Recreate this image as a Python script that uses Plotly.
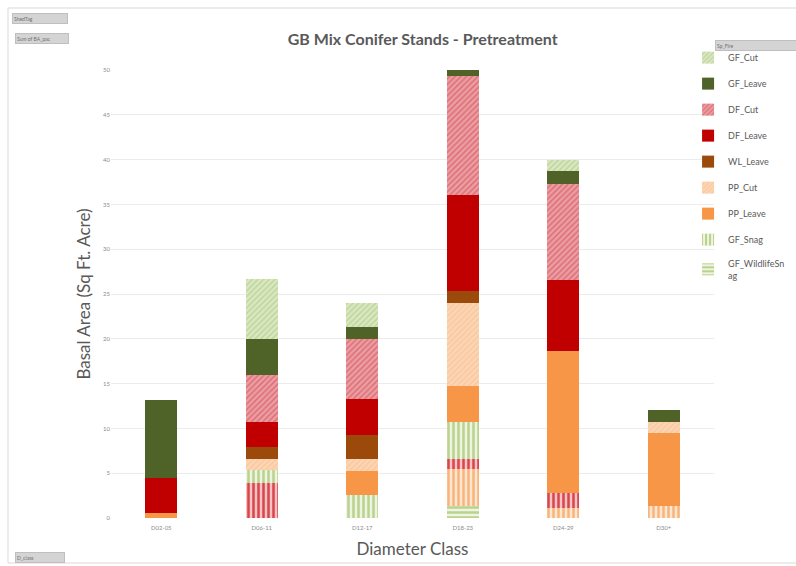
import plotly.graph_objects as go

# Diameter classes on the x axis
categories = ["D02-05", "D06-11", "D12-17", "D18-23", "D24-29", "D30+"]

# Basal area (sq ft / acre) per species & fire status, bottom of stack first
gf_wildlifesnag = [0, 0, 0, 1.3, 0, 0]
pp_snag = [0, 0, 0, 4.2, 1.1, 1.3]
df_snag = [0, 3.9, 0, 1.1, 1.7, 0]
gf_snag = [0, 1.5, 2.6, 4.1, 0, 0]
pp_leave = [0.6, 0, 2.6, 4.0, 15.8, 8.2]
pp_cut = [0, 1.2, 1.4, 9.3, 0, 1.2]
wl_leave = [0, 1.3, 2.7, 1.3, 0, 0]
df_leave = [3.9, 2.8, 4.0, 10.7, 8.0, 0]
df_cut = [0, 5.3, 6.7, 13.3, 10.7, 0]
gf_leave = [8.7, 4.0, 1.3, 0.7, 1.4, 1.3]
gf_cut = [0, 6.7, 2.7, 0, 1.3, 0]

y_ticks = [0, 5, 10, 15, 20, 25, 30, 35, 40, 45, 50]

# (name, values, legend rank, shown in legend, pattern shape, background, foreground)
series = [
    ("GF_WildlifeSn<br>ag", gf_wildlifesnag, 9, True, "-", "#eef4e2", "#b9d28c"),
    ("PP_Snag", pp_snag, 11, False, "|", "#fde6d2", "#f8b47a"),
    ("DF_Snag", df_snag, 10, False, "|", "#f6c4c4", "#d9454d"),
    ("GF_Snag", gf_snag, 8, True, "|", "#eef4e2", "#b9d28c"),
    ("PP_Leave", pp_leave, 7, True, "", "#f79646", None),
    ("PP_Cut", pp_cut, 6, True, "/", "#fcd5b4", "#f9c79d"),
    ("WL_Leave", wl_leave, 5, True, "", "#9c4a0c", None),
    ("DF_Leave", df_leave, 4, True, "", "#c00000", None),
    ("DF_Cut", df_cut, 3, True, "/", "#eb9ea2", "#dc6a72"),
    ("GF_Leave", gf_leave, 2, True, "", "#4f6228", None),
    ("GF_Cut", gf_cut, 1, True, "/", "#dae7c3", "#bcd495"),
]

fig = go.Figure()
for name, vals, rank, show, shape, bg, fg in series:
    marker = dict(color=bg, line=dict(width=0))
    if shape:
        marker["pattern"] = dict(shape=shape, bgcolor=bg, fgcolor=fg,
                                 fillmode="replace",
                                 size=5 if shape != "/" else 4,
                                 solidity=0.5 if shape != "/" else 0.35)
    fig.add_trace(go.Bar(
        x=categories, y=vals, name=name, marker=marker,
        legendrank=rank, showlegend=show, legendgroup=name,
    ))

fig.update_layout(
    barmode="stack",
    bargap=0.68,
    width=796, height=566,
    margin=dict(l=111, r=82, t=70, b=48, autoexpand=False),
    paper_bgcolor="white",
    plot_bgcolor="white",
    font=dict(family="Lato, Open Sans, sans-serif", color="#595959"),
    title=dict(text="<b>GB Mix Conifer Stands - Pretreatment</b>",
               x=0.531, xanchor="center", y=0.93, yanchor="middle",
               font=dict(size=16, color="#595959")),
    xaxis=dict(
        type="category", categoryorder="array", categoryarray=categories,
        range=[-0.5, 5.5], showgrid=False, showline=False, ticks="",
        tickfont=dict(size=6, color="#8c8c8c"), ticklabelstandoff=5,
        title=dict(text="Diameter Class", font=dict(size=17, color="#595959"),
                   standoff=13),
    ),
    yaxis=dict(
        range=[0, 50], tickvals=y_ticks, showgrid=True, gridcolor="#ececec",
        gridwidth=1, zeroline=False, showline=False, ticks="",
        tickfont=dict(size=6, color="#8c8c8c"),
        title=dict(text="Basal Area (Sq Ft. Acre)",
                   font=dict(size=17, color="#595959"), standoff=8),
    ),
    legend=dict(
        x=0.957, xanchor="left", y=1.06, yanchor="top",
        traceorder="grouped", tracegroupgap=7,
        font=dict(size=9, color="#595959"),
        bgcolor="rgba(0,0,0,0)", itemwidth=30,
    ),
)

# Outer frame of the chart area
fig.add_shape(type="rect", xref="paper", yref="paper",
              x0=-103 / 603, x1=(800 - 111) / 603,
              y0=-45 / 448, y1=1 + 62 / 448,
              line=dict(color="#d9d9d9", width=1), layer="below")

# Pivot field buttons: (label, left edge, vertical centre, width)
buttons = [
    ("ShedTag", 12, 19, 52),
    ("Sum of BA_pac", 15, 38, 50),
    ("D_class", 15, 557, 46),
    ("Sp_Fire", 715, 46, 80),
]
for text, x0, cy, w in buttons:
    fig.add_annotation(
        text=text, xref="paper", yref="paper",
        x=(x0 - 111) / 603, y=(518 - cy) / 448,
        xanchor="left", yanchor="middle",
        showarrow=False, font=dict(size=5, color="#707070"),
        bgcolor="#d4d4d4", bordercolor="#bfbfbf", borderwidth=1,
        width=w, height=7, align="left", borderpad=1,
    )

fig.write_html("out.html")
